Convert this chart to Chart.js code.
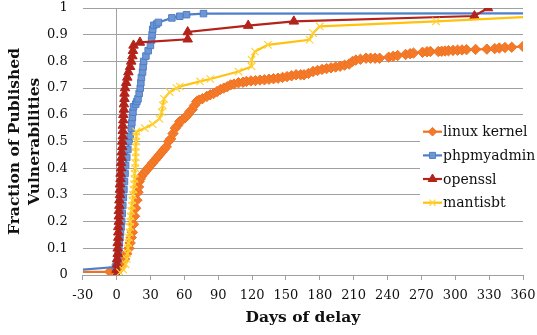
<!DOCTYPE html>
<html>
<head>
<meta charset="utf-8">
<script src="https://cdn.jsdelivr.net/npm/chart.js@4/dist/chart.umd.min.js"></script>
<style>
html,body{margin:0;padding:0;background:#fff;}
#wrap{width:537px;height:335px;position:relative;}
</style>
</head>
<body>
<div id="wrap"><canvas id="c"></canvas></div>
<script>
// ---- data ----
const seriesNames = ['linux kernel', 'phpmyadmin', 'openssl', 'mantisbt'];

const linuxDays = [-30,-6,-1,2,4,5,7,9,11,12,13,14,15,16,17,18,19,19.5,20,21,22,24,26,28,30,32,34,36,38,40,42,44,46,48,50,52,54,56,58,61,63,65,67,69,71,73,76,80,83,86,89,92,95,98,101,104,108,112,115,119,123,127,131,135,139,143,147,151,155,159,163,166,170,174,178,182,186,190,194,198,202,206,209,212,216,221,225,229,233,241,245,249,256,260,263,271,275,278,285,288,291,294,298,302,306,310,318,328,335,339,344,350,360];
const linuxFrac = [0.012,0.012,0.015,0.02,0.03,0.045,0.06,0.08,0.10,0.12,0.14,0.16,0.19,0.22,0.25,0.28,0.31,0.33,0.35,0.36,0.37,0.38,0.39,0.40,0.41,0.42,0.43,0.44,0.45,0.46,0.47,0.48,0.50,0.51,0.53,0.55,0.56,0.575,0.58,0.59,0.60,0.612,0.62,0.635,0.65,0.655,0.66,0.669,0.675,0.68,0.687,0.695,0.70,0.705,0.712,0.715,0.72,0.722,0.725,0.727,0.728,0.73,0.731,0.733,0.735,0.737,0.74,0.743,0.746,0.75,0.75,0.75,0.755,0.762,0.766,0.77,0.773,0.776,0.779,0.782,0.786,0.79,0.80,0.805,0.808,0.812,0.812,0.812,0.812,0.816,0.819,0.822,0.826,0.829,0.831,0.834,0.836,0.837,0.837,0.838,0.839,0.84,0.841,0.842,0.843,0.844,0.845,0.846,0.848,0.85,0.852,0.853,0.856];

const phpDays = [-30,-1,0,1,1.5,2,2.5,3,3.5,4,4.5,5,5.5,6,6.5,7,7.5,8,9,10,11,12,13,13.5,14,14.5,15,17,18,19,20,21,21.5,22,23,23.5,24,26,28,30,31,31.5,32,33,35.5,37,49,56,62,77,360];
const phpFrac = [0.02,0.03,0.04,0.06,0.08,0.10,0.12,0.14,0.16,0.18,0.20,0.23,0.26,0.29,0.32,0.35,0.38,0.41,0.44,0.47,0.50,0.52,0.55,0.57,0.59,0.61,0.63,0.64,0.65,0.66,0.68,0.70,0.72,0.74,0.76,0.78,0.80,0.82,0.84,0.86,0.88,0.90,0.92,0.935,0.94,0.946,0.963,0.969,0.975,0.979,0.98];

const opensslDays = [0,0,0.5,0.5,1,1,1,1.5,1.5,1.5,2,2,2,2.5,2.5,3,3,3,3.5,3.5,4,4,4.5,4.5,5,5,5.5,5.5,5.5,6,6,6.5,6.5,7,7,7.5,8.5,9.5,10.5,12,13,14,14.5,15,20.7,63,63,116.6,157,317,329];
const opensslFrac = [0.0,0.02,0.04,0.06,0.08,0.10,0.12,0.14,0.16,0.18,0.20,0.22,0.24,0.26,0.28,0.30,0.32,0.34,0.36,0.38,0.40,0.42,0.44,0.46,0.48,0.50,0.52,0.54,0.56,0.58,0.60,0.62,0.64,0.66,0.68,0.70,0.72,0.74,0.76,0.78,0.80,0.82,0.84,0.86,0.871,0.883,0.91,0.934,0.95,0.97,1.0];

const mantisDays = [3,6,8,9,9.5,10,10.5,11,11.5,12,12,12.5,13,13.5,14,14.5,15,15.5,16,16,16.5,16.5,17,17,17,17.5,17.5,17.5,25,32,38,40,41,42,47,53,56,74,83,108,119.6,119.6,122.5,134,171,174,180,283,360];
const mantisFrac = [0.01,0.02,0.04,0.06,0.08,0.10,0.12,0.14,0.16,0.18,0.20,0.22,0.24,0.26,0.28,0.30,0.32,0.34,0.36,0.38,0.40,0.42,0.44,0.46,0.48,0.50,0.52,0.537,0.55,0.565,0.585,0.61,0.635,0.66,0.685,0.70,0.706,0.725,0.734,0.762,0.781,0.806,0.837,0.862,0.881,0.906,0.931,0.95,0.966];

const xMin = -30, xMax = 360, xStep = 30;
const yMin = 0, yMax = 1, yStep = 0.1;
const xTitle = 'Days of delay';
const yTitle = ['Fraction of Published', 'Vulnerabilities'];

// ---- build chart ----
function pts(xs, ys){ return xs.map((x,i)=>({x:x, y:ys[i]})); }
function hideEnds(n, hideFirst, hideLast, r){
  return ctx => ((hideFirst && ctx.dataIndex===0) || (hideLast && ctx.dataIndex===n-1)) ? 0 : r;
}

const serif = "'DejaVu Serif', serif";
const gridGray = '#A0A0A0';

const datasets = [
  {label: seriesNames[0], data: pts(linuxDays, linuxFrac), borderColor:'#F07221', backgroundColor:'#F47A2A',
   pointStyle:'rectRot', pointRadius: hideEnds(linuxDays.length,true,false,5.2), pointBorderColor:'#F07221', pointBorderWidth:1, borderWidth:2.2, order:4},
  {label: seriesNames[1], data: pts(phpDays, phpFrac), borderColor:'#4F7FC8', backgroundColor:'#6E96D3',
   pointStyle:'rect', pointRadius: hideEnds(phpDays.length,true,true,4.6), pointBorderColor:'#4F7FC8', pointBorderWidth:1, borderWidth:2.2, order:3},
  {label: seriesNames[2], data: pts(opensslDays, opensslFrac), borderColor:'#B3231A', backgroundColor:'#B3231A',
   pointStyle:'triangle', pointRadius: 5.5, pointBorderColor:'#B3231A', pointBorderWidth:1, borderWidth:2.2, order:2},
  {label: seriesNames[3], data: pts(mantisDays, mantisFrac), borderColor:'#FFC20E', backgroundColor:'#FFD54F',
   pointStyle:'crossRot', pointRadius: hideEnds(mantisDays.length,false,true,5.2), pointBorderColor:'#FFD23A', pointBorderWidth:1.2, borderWidth:2.2, order:1}
];

const legendPlugin = {
  id:'customLegend',
  afterDraw(chart){
    const ctx = chart.ctx;
    ctx.save();
    ctx.fillStyle = '#fff';
    ctx.fillRect(420, 121, 117, 92);
    const ys = [131.7, 155.4, 179, 202.7];
    chart.data.datasets.forEach((ds, i) => {
      const y = ys[i];
      ctx.strokeStyle = ds.borderColor;
      ctx.lineWidth = 2.2;
      ctx.beginPath(); ctx.moveTo(423, y); ctx.lineTo(442, y); ctx.stroke();
      ctx.fillStyle = ds.backgroundColor;
      ctx.strokeStyle = ds.pointBorderColor;
      ctx.lineWidth = ds.pointBorderWidth;
      Chart.helpers.drawPoint(ctx, {pointStyle: ds.pointStyle, radius: ds.pointStyle==='triangle'?5:4.3, rotation:0, borderWidth: ds.pointBorderWidth}, 432.5, y);
      ctx.fillStyle = '#111';
      ctx.font = "14px " + serif;
      ctx.textBaseline = 'middle';
      ctx.textAlign = 'left';
      ctx.fillText(ds.label, 443, y + 1);
    });
    ctx.restore();
  }
};

new Chart(document.getElementById('c'), {
  type:'line',
  data:{datasets},
  options:{
    responsive:true, maintainAspectRatio:false, animation:false,
    devicePixelRatio:1,
    layout:{padding:{top:8, right:14, left:0, bottom:0}},
    elements:{line:{tension:0}},
    plugins:{legend:{display:false}, tooltip:{enabled:false}},
    scales:{
      x:{type:'linear', min:xMin, max:xMax,
        ticks:{stepSize:xStep, color:'#111', font:{family:serif, size:13}, padding:8, maxRotation:0},
        grid:{color: c => (c.tick && c.tick.value===0) ? gridGray : 'rgba(0,0,0,0)', tickColor:gridGray, tickLength:5, lineWidth:1},
        border:{display:true, color:gridGray, width:1},
        title:{display:true, text:xTitle, color:'#111', font:{family:serif, size:15.5, weight:'bold'}, padding:{top:0,bottom:8}},
        afterFit: s => { s.height = 60; s.paddingLeft = 0; s.paddingRight = 0; }
      },
      y:{type:'linear', min:yMin, max:yMax,
        ticks:{stepSize:yStep, color:'#111', font:{family:serif, size:13}, padding:15,
          callback: v => String(+v.toFixed(1))},
        grid:{color:gridGray, drawTicks:false, lineWidth:1},
        border:{display:false},
        title:{display:true, text:yTitle, color:'#111', font:{family:serif, size:15.5, weight:'bold', lineHeight:1.3}, padding:{top:5,bottom:0}},
        afterFit: s => { s.width = 82.7; s.paddingTop = 0; s.paddingBottom = 0; }
      }
    }
  },
  plugins:[legendPlugin]
});
</script>
</body>
</html>
